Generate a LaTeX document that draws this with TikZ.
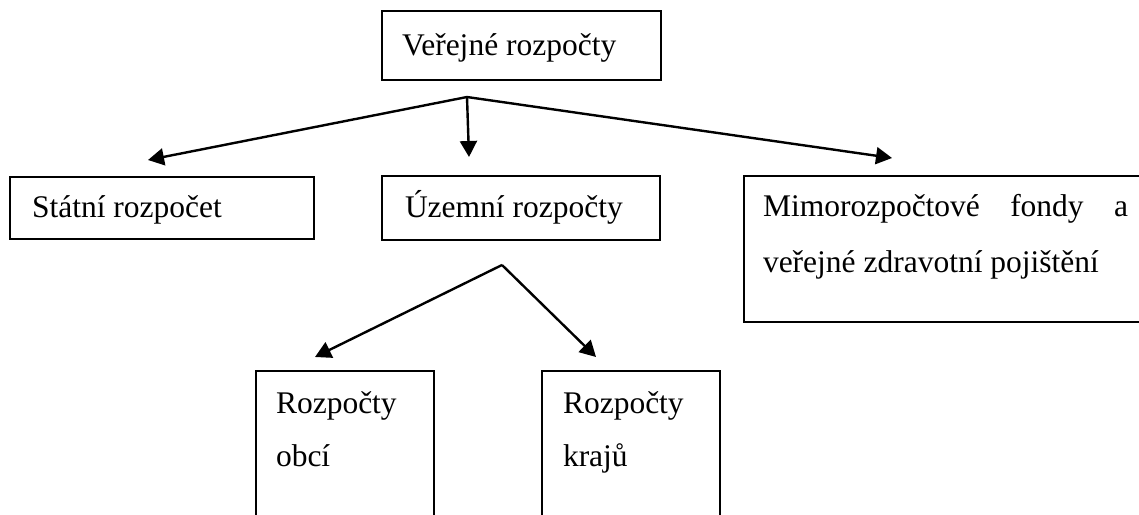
\documentclass[tikz,border=0pt]{standalone}
\usepackage{fontspec}
\setmainfont{Liberation Serif}
\usetikzlibrary{arrows.meta}
\begin{document}
\begin{tikzpicture}[x=1pt,y=-1pt,
  box/.style={draw=black,line width=2.3pt,anchor=north west,inner sep=0pt,outer sep=0pt},
  txt/.style={anchor=base west,inner sep=0pt,outer sep=0pt,font=\fontsize{31.5}{38}\selectfont},
  arr/.style={line width=2.4pt,-{Triangle[length=16pt,width=17pt]}}]
\useasboundingbox (0,0) rectangle (1139,514);
% boxes
\node[box,minimum width=279pt,minimum height=69pt] (top) at (382,11) {};
\node[box,minimum width=304pt,minimum height=62pt] (statni) at (10,177) {};
\node[box,minimum width=278pt,minimum height=64pt] (uzemni) at (382,176) {};
\node[box,minimum width=420pt,minimum height=146pt] (mimo) at (744,176) {};
\node[box,minimum width=178pt,minimum height=180pt] (obci) at (256,371) {};
\node[box,minimum width=178pt,minimum height=180pt] (kraju) at (542,371) {};
% texts
\node[txt] (ttop) at (402,55) {Veřejné rozpočty};
\node[txt] (tstatni) at (32,217) {Státní rozpočet};
\node[txt] (tuzemni) at (405,217) {Územní rozpočty};
\node[txt] (tmimo1) at (763,216) {\makebox[365pt][l]{Mimorozpočtové\hfill fondy\hfill a}};
\node[txt] (tmimo2) at (763,272) {veřejné zdravotní pojištění};
\node[txt] (tobci1) at (276,413) {Rozpočty};
\node[txt] (tobci2) at (276,466) {obcí};
\node[txt] (tkraju1) at (563,413) {Rozpočty};
\node[txt] (tkraju2) at (563,466) {krajů};
% connector points
\coordinate (hubA) at (467,97);
\coordinate (tipS) at (148,160);
\coordinate (tipU) at (469,157);
\coordinate (tipM) at (892,158);
\coordinate (hubB) at (502,265);
\coordinate (tipO) at (315,357);
\coordinate (tipK) at (596,357);
\draw[arr] (hubA) -- (tipS);
\draw[arr] (hubA) -- (tipU);
\draw[arr] (hubA) -- (tipM);
\draw[arr] (hubB) -- (tipO);
\draw[arr] (hubB) -- (tipK);
\end{tikzpicture}
\end{document}
